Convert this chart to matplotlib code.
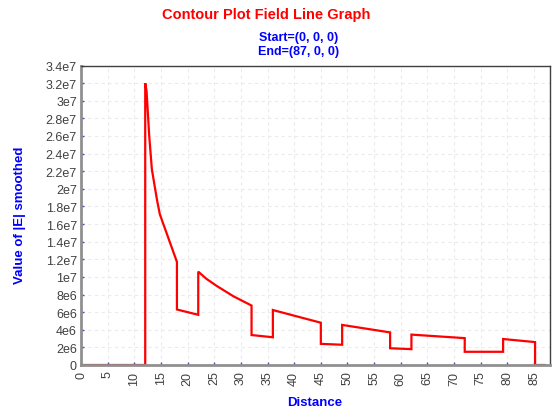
import matplotlib
matplotlib.use('Agg')
import matplotlib.pyplot as plt
from matplotlib.ticker import MultipleLocator, FuncFormatter

# field line samples: distance vs |E| (smoothed)
distance = [0, 12.05, 12.05, 12.3, 12.45, 12.8, 13.3, 13.8, 14.3, 14.8, 18.0, 18.0,
            22.0, 22.0, 23.5, 25.4, 28.6, 32.0, 32.0, 36.0, 36.0, 45.0, 45.0, 49.0,
            49.0, 58.0, 58.0, 62.0, 62.0, 72.0, 72.0, 79.2, 79.2, 85.2, 85.2, 87.0]
e_value = [0, 0, 32.0e6, 31.1e6, 29.6e6, 26.0e6, 22.2e6, 20.4e6, 18.6e6, 17.1e6, 11.7e6, 6.3e6,
           5.7e6, 10.6e6, 9.8e6, 9.0e6, 7.8e6, 6.75e6, 3.4e6, 3.15e6, 6.24e6, 4.8e6, 2.4e6, 2.3e6,
           4.55e6, 3.7e6, 1.9e6, 1.8e6, 3.45e6, 3.05e6, 1.5e6, 1.5e6, 2.95e6, 2.6e6, 0, 0]

title = 'Contour Plot Field Line Graph'
subtitle = 'Start=(0, 0, 0)\nEnd=(87, 0, 0)'

plt.rcParams['font.family'] = ['Liberation Sans', 'DejaVu Sans']

W, H = 552, 414
fig = plt.figure(figsize=(W/100., H/100.), dpi=100, facecolor='w')
ax = fig.add_axes([81./W, 1-366./H, (550-81.)/W, (366-66.5)/H])

ax.plot(distance, e_value, color='#ff0000', lw=1.6, solid_joinstyle='miter')

ax.set_xlim(0, 88)
ax.set_ylim(0, 3.4e7)
ax.xaxis.set_major_locator(MultipleLocator(5))
ax.yaxis.set_major_locator(MultipleLocator(2e6))

def yfmt(v, pos):
    if v == 0:
        return '0'
    e = len(str(int(round(v)))) - 1
    m = v/10**e
    s = ('%.1f' % m).rstrip('0').rstrip('.')
    return '%se%d' % (s, e)

ax.yaxis.set_major_formatter(FuncFormatter(yfmt))
ax.tick_params(axis='both', direction='in', length=2, width=1, color='#4040ff',
               labelsize=9, labelcolor='#404040')
ax.tick_params(axis='y', pad=3)
ax.tick_params(axis='x', pad=4)
plt.setp(ax.get_xticklabels(), rotation=90)

ax.grid(True, color='#ebebeb', ls=(0, (3, 3)), lw=0.8)
ax.set_axisbelow(True)
for s in ['left', 'bottom']:
    ax.spines[s].set_color('#909090')
    ax.spines[s].set_linewidth(2)
for s in ['top', 'right']:
    ax.spines[s].set_color('#404040')
    ax.spines[s].set_linewidth(1)

fig.text(266./W, 1-14.5/H, title, color='#ff0000', fontsize=10.5, fontweight='bold',
         ha='center', va='center')
fig.text(299./W, 1-45./H, subtitle, color='#0000ff', fontsize=9, fontweight='bold',
         ha='center', va='center', linespacing=1.15)
fig.text(315./W, 1-403./H, 'Distance', color='#0000ff', fontsize=9.5, fontweight='bold',
         ha='center', va='center')
fig.text(20./W, 1-215./H, 'Value of |E| smoothed', color='#0000ff', fontsize=9.5,
         fontweight='bold', ha='center', va='center', rotation=90)

fig.savefig('out.png', dpi=100, facecolor='w')
